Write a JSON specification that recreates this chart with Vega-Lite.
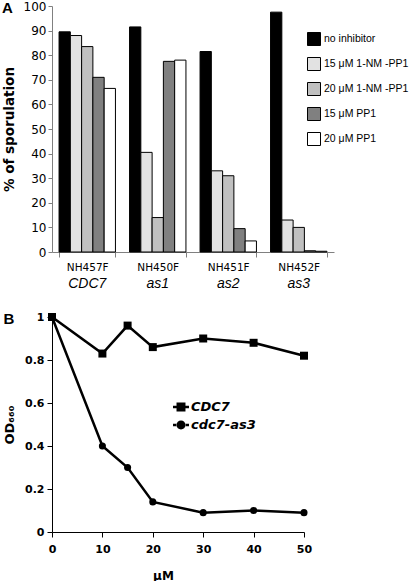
{
  "$schema": "https://vega.github.io/schema/vega-lite/v6.json",
  "padding": {"left": 2, "top": 0, "right": 0, "bottom": 0},
  "spacing": 21,
  "config": {"view": {"stroke": null}, "font": "DejaVu Sans"},
  "resolve": {"legend": {"color": "independent", "shape": "independent"}},
  "vconcat": [
    {
      "title": {"text": "A", "anchor": "start", "frame": "bounds", "fontSize": 15, "font": "Liberation Sans", "fontWeight": "bold", "color": "#000", "dy": 16, "offset": 0},
      "width": 282,
      "height": 246,
      "data": {"values": [
        {"strain": "NH457F", "treatment": "no inhibitor", "value": 89.5},
        {"strain": "NH457F", "treatment": "15 μM 1-NM -PP1", "value": 88},
        {"strain": "NH457F", "treatment": "20 μM 1-NM -PP1", "value": 83.5},
        {"strain": "NH457F", "treatment": "15 μM PP1", "value": 71},
        {"strain": "NH457F", "treatment": "20 μM PP1", "value": 66.5},
        {"strain": "NH450F", "treatment": "no inhibitor", "value": 91.5},
        {"strain": "NH450F", "treatment": "15 μM 1-NM -PP1", "value": 40.5},
        {"strain": "NH450F", "treatment": "20 μM 1-NM -PP1", "value": 14},
        {"strain": "NH450F", "treatment": "15 μM PP1", "value": 77.5},
        {"strain": "NH450F", "treatment": "20 μM PP1", "value": 78},
        {"strain": "NH451F", "treatment": "no inhibitor", "value": 81.5},
        {"strain": "NH451F", "treatment": "15 μM 1-NM -PP1", "value": 33},
        {"strain": "NH451F", "treatment": "20 μM 1-NM -PP1", "value": 31},
        {"strain": "NH451F", "treatment": "15 μM PP1", "value": 9.5},
        {"strain": "NH451F", "treatment": "20 μM PP1", "value": 4.5},
        {"strain": "NH452F", "treatment": "no inhibitor", "value": 97.5},
        {"strain": "NH452F", "treatment": "15 μM 1-NM -PP1", "value": 13},
        {"strain": "NH452F", "treatment": "20 μM 1-NM -PP1", "value": 10},
        {"strain": "NH452F", "treatment": "15 μM PP1", "value": 0.5},
        {"strain": "NH452F", "treatment": "20 μM PP1", "value": 0.3}
      ]},
      "layer": [
        {
          "mark": {"type": "bar", "stroke": "#000", "strokeWidth": 1},
          "encoding": {
            "x": {"field": "strain", "type": "nominal", "sort": ["NH457F", "NH450F", "NH451F", "NH452F"],
              "scale": {"paddingInner": 0.2, "paddingOuter": 0.1},
              "axis": {"title": null, "orient": "bottom", "labelAngle": 0, "tickBand": "extent", "domainColor": "#808080", "tickColor": "#808080", "tickSize": 5, "labelFont": "DejaVu Sans", "labelFontSize": 10.5, "labelColor": "#000", "labelPadding": 5}},
            "xOffset": {"field": "treatment", "type": "nominal", "sort": ["no inhibitor", "15 μM 1-NM -PP1", "20 μM 1-NM -PP1", "15 μM PP1", "20 μM PP1"],
              "scale": {"paddingInner": 0, "paddingOuter": 0}},
            "y": {"field": "value", "type": "quantitative", "scale": {"domain": [0, 100], "nice": false},
              "axis": {"values": [0, 10, 20, 30, 40, 50, 60, 70, 80, 90, 100], "labelOverlap": false, "grid": false, "title": "% of sporulation", "titleFont": "DejaVu Sans", "titleFontSize": 13.5, "titleFontWeight": "bold", "titleColor": "#000", "titlePadding": 7, "labelFont": "DejaVu Sans", "labelFontSize": 12, "labelColor": "#000", "domainColor": "#808080", "tickColor": "#808080", "tickSize": 4}},
            "color": {"field": "treatment", "type": "nominal",
              "scale": {"domain": ["no inhibitor", "15 μM 1-NM -PP1", "20 μM 1-NM -PP1", "15 μM PP1", "20 μM PP1"], "range": ["#000000", "#e2e2e2", "#c0c0c0", "#808080", "#ffffff"]},
              "legend": {"orient": "none", "legendX": 255, "legendY": 26, "title": null, "symbolType": "square", "symbolSize": 169, "symbolStrokeColor": "#000", "symbolStrokeWidth": 1, "labelFont": "Liberation Sans", "labelFontSize": 10.5, "labelColor": "#000", "rowPadding": 7, "labelOffset": 3, "padding": 0}}
          }
        },
        {
          "mark": {"type": "point", "opacity": 0},
          "encoding": {
            "x": {"field": "strain", "type": "nominal", "sort": ["NH457F", "NH450F", "NH451F", "NH452F"],
              "axis": {"title": null, "orient": "bottom", "labelAngle": 0, "domain": false, "ticks": false, "offset": 22, "labelPadding": 2, "labelFont": "Liberation Sans", "labelFontStyle": "italic", "labelFontSize": 14, "labelColor": "#000",
                "labelExpr": "datum.value == 'NH457F' ? 'CDC7' : datum.value == 'NH450F' ? 'as1' : datum.value == 'NH451F' ? 'as2' : 'as3'"}}
          }
        }
      ],
      "resolve": {"axis": {"x": "independent"}}
    },
    {
      "title": {"text": "B", "anchor": "start", "frame": "bounds", "fontSize": 15, "font": "Liberation Sans", "fontWeight": "bold", "color": "#000", "dy": 16, "offset": 0},
      "width": 252,
      "height": 215,
      "data": {"values": [
        {"series": "CDC7", "uM": 0, "od": 1.0},
        {"series": "CDC7", "uM": 10, "od": 0.83},
        {"series": "CDC7", "uM": 15, "od": 0.96},
        {"series": "CDC7", "uM": 20, "od": 0.86},
        {"series": "CDC7", "uM": 30, "od": 0.90},
        {"series": "CDC7", "uM": 40, "od": 0.88},
        {"series": "CDC7", "uM": 50, "od": 0.82},
        {"series": "cdc7-as3", "uM": 0, "od": 1.0},
        {"series": "cdc7-as3", "uM": 10, "od": 0.40},
        {"series": "cdc7-as3", "uM": 15, "od": 0.30},
        {"series": "cdc7-as3", "uM": 20, "od": 0.14},
        {"series": "cdc7-as3", "uM": 30, "od": 0.09},
        {"series": "cdc7-as3", "uM": 40, "od": 0.10},
        {"series": "cdc7-as3", "uM": 50, "od": 0.09}
      ]},
      "encoding": {
        "x": {"field": "uM", "type": "quantitative", "scale": {"domain": [0, 50], "nice": false},
          "axis": {"values": [0, 10, 20, 30, 40, 50], "labelOverlap": false, "grid": false, "title": "μM", "titleX": 111, "titleFont": "DejaVu Sans", "titleFontSize": 12, "titleFontWeight": "bold", "titleColor": "#000", "titlePadding": 16, "labelFont": "DejaVu Sans", "labelFontSize": 11, "labelFontWeight": "bold", "labelColor": "#000", "labelPadding": 6, "domainColor": "#000", "tickColor": "#000", "tickSize": 5, "labelFlush": false}},
        "y": {"field": "od", "type": "quantitative", "scale": {"domain": [0, 1], "nice": false},
          "axis": {"values": [0, 0.2, 0.4, 0.6, 0.8, 1], "labelOverlap": false, "format": ".1~f", "grid": false, "title": "OD₆₆₀", "titleFont": "DejaVu Sans", "titleFontSize": 13, "titleFontWeight": "bold", "titleColor": "#000", "titlePadding": 8, "labelFont": "DejaVu Sans", "labelFontSize": 11, "labelFontWeight": "bold", "labelColor": "#000", "labelPadding": 3, "domainColor": "#000", "tickColor": "#000", "tickSize": 5, "labelFlush": false}}
      },
      "layer": [
        {"mark": {"type": "line", "color": "#000", "strokeWidth": 2.5}, "encoding": {"detail": {"field": "series"}}},
        {"transform": [{"filter": "datum.series == 'CDC7'"}], "mark": {"type": "point", "shape": "square", "filled": true, "color": "#000", "size": 64, "opacity": 1}},
        {"transform": [{"filter": "datum.series == 'cdc7-as3'"}], "mark": {"type": "point", "shape": "circle", "filled": true, "color": "#000", "size": 50, "opacity": 1}},
        {"mark": {"type": "point", "filled": true, "color": "#000", "opacity": 0},
          "encoding": {"shape": {"field": "series", "type": "nominal",
            "scale": {"domain": ["CDC7", "cdc7-as3"], "range": [
              "M-1,-0.16 L-0.56,-0.16 L-0.56,0.16 L-1,0.16 Z M0.56,-0.16 L1,-0.16 L1,0.16 L0.56,0.16 Z M-0.56,-0.56 L0.56,-0.56 L0.56,0.56 L-0.56,0.56 Z",
              "M-1,-0.16 L-0.5,-0.16 L-0.5,0.16 L-1,0.16 Z M0.5,-0.16 L1,-0.16 L1,0.16 L0.5,0.16 Z M-0.56,0 A0.56,0.56 0 1,0 0.56,0 A0.56,0.56 0 1,0 -0.56,0 Z"]},
            "legend": {"orient": "none", "legendX": 121, "legendY": 82, "title": null, "symbolSize": 256, "symbolOpacity": 1, "symbolFillColor": "#000", "symbolStrokeColor": "#000", "symbolStrokeWidth": 0, "labelFont": "DejaVu Sans", "labelFontSize": 13, "labelFontWeight": "bold", "labelFontStyle": "italic", "labelColor": "#000", "labelOffset": 2, "rowPadding": 3, "padding": 0}}}}
      ]
    }
  ]
}
